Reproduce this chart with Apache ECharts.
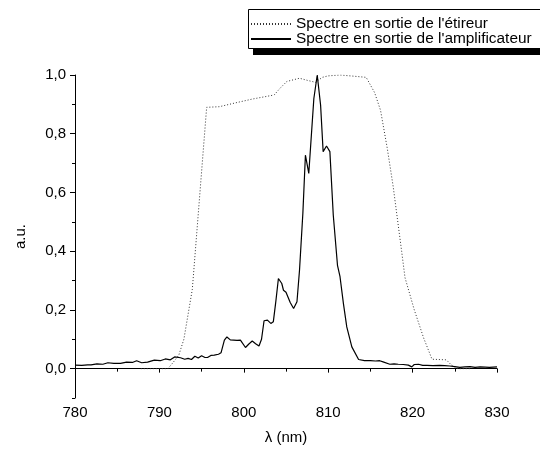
<!DOCTYPE html>
<html>
<head>
<meta charset="utf-8">
<script src="https://cdn.jsdelivr.net/npm/echarts@6/dist/echarts.min.js"></script>
<style>
html,body{margin:0;padding:0;background:#fff;}
#chart{width:540px;height:453px;}
</style>
</head>
<body>
<div id="chart"></div>
<script>
// Series names
const seriesNames = ["Spectre en sortie de l'étireur", "Spectre en sortie de l'amplificateur"];

// Stretcher output spectrum (dotted)
const stretcherLambda = [787.8, 791.0, 791.6, 792.3, 792.9, 793.9, 795.6, 797.1, 799.0, 801.0, 803.6, 804.3, 805.1, 806.6, 807.5, 808.5, 809.3, 810.0, 811.4, 813.0, 814.5, 815.5, 816.2, 817.0, 817.7, 818.7, 819.1, 820.2, 821.3, 822.3, 824.0, 824.6, 825.4, 827.0];
const stretcherValue  = [0.0, 0.0, 0.02, 0.046, 0.10, 0.27, 0.89, 0.892, 0.905, 0.918, 0.932, 0.955, 0.978, 0.989, 0.982, 0.975, 0.992, 0.997, 1.0, 0.996, 0.992, 0.94, 0.88, 0.75, 0.62, 0.40, 0.31, 0.20, 0.105, 0.032, 0.030, 0.012, 0.0, 0.0];

// Amplifier output spectrum (solid)
const amplLambda = [780.0, 780.8, 781.5, 781.9, 782.6, 783.3, 783.9, 784.6, 785.4, 786.1, 786.8, 787.3, 787.9, 788.6, 789.4, 790.1, 790.7, 791.3, 791.8, 792.5, 793.0, 793.4, 793.8, 794.2, 794.6, 795.0, 795.4, 795.7, 796.1, 796.5, 797.0, 797.3, 797.7, 798.0, 798.4, 798.8, 799.2, 799.6, 800.2, 800.6, 801.0, 801.4, 801.8, 802.1, 802.4, 802.8, 803.2, 803.5, 803.8, 804.1, 804.5, 804.7, 805.0, 805.5, 805.9, 806.3, 806.6, 807.0, 807.3, 807.7, 808.3, 808.7, 809.1, 809.4, 809.8, 810.2, 810.6, 811.1, 811.4, 811.8, 812.2, 812.8, 813.6, 814.3, 815.0, 815.6, 816.1, 816.5, 817.3, 817.8, 818.3, 818.9, 819.5, 819.9, 820.2, 820.7, 821.2, 821.7, 822.4, 823.2, 823.8, 824.4, 825.0, 825.6, 826.2, 826.8, 827.4, 828.0, 828.6, 829.1, 830.0];
const amplValue  = [0.012, 0.011, 0.013, 0.013, 0.016, 0.015, 0.020, 0.018, 0.018, 0.022, 0.021, 0.027, 0.020, 0.022, 0.029, 0.027, 0.033, 0.030, 0.040, 0.037, 0.032, 0.035, 0.031, 0.042, 0.036, 0.044, 0.038, 0.038, 0.045, 0.046, 0.049, 0.054, 0.097, 0.108, 0.098, 0.097, 0.096, 0.097, 0.072, 0.084, 0.094, 0.085, 0.077, 0.100, 0.163, 0.165, 0.154, 0.160, 0.230, 0.307, 0.290, 0.267, 0.260, 0.225, 0.205, 0.228, 0.335, 0.530, 0.727, 0.665, 0.920, 1.0, 0.897, 0.739, 0.758, 0.739, 0.523, 0.352, 0.313, 0.222, 0.142, 0.074, 0.031, 0.027, 0.027, 0.026, 0.027, 0.023, 0.015, 0.016, 0.015, 0.014, 0.012, 0.006, 0.014, 0.015, 0.011, 0.011, 0.010, 0.011, 0.010, 0.009, 0.007, 0.004, 0.006, 0.007, 0.004, 0.006, 0.005, 0.004, 0.006];

// Axis ticks
const yMajorTicks = [0, 0.2, 0.4, 0.6, 0.8, 1.0];
const yMinorTicks = [-0.1, 0.1, 0.3, 0.5, 0.7, 0.9];
const xTitle = 'λ (nm)';
const yTitle = 'a.u.';

const stretcherData = stretcherLambda.map((l, i) => [l, stretcherValue[i]]);
const amplData = amplLambda.map((l, i) => [l, amplValue[i]]);

const chart = echarts.init(document.getElementById('chart'), null, {renderer: 'canvas'});
const font = 'Arial, "Liberation Sans", Helvetica, sans-serif';

chart.setOption({
  animation: false,
  backgroundColor: '#fff',
  textStyle: {fontFamily: font},
  grid: {left: 75, right: 43, top: 75, bottom: 55, containLabel: false},
  graphic: [
    {type: 'rect', shape: {x: 253, y: 48, width: 300, height: 7}, style: {fill: '#000'}, z: 1},
    {type: 'rect', shape: {x: 248.5, y: 9.5, width: 300, height: 39}, style: {fill: '#fff', stroke: '#000', lineWidth: 1}, z: 2}
  ],
  legend: {
    orient: 'vertical',
    left: 250,
    top: 16,
    padding: 0,
    itemWidth: 40,
    itemHeight: 16,
    itemGap: -1,
    z: 10,
    itemStyle: {opacity: 0},
    textStyle: {fontFamily: font, fontSize: 15.4, color: '#000', lineHeight: 16},
    data: seriesNames
  },
  xAxis: {
    type: 'value',
    min: 780, max: 830, interval: 10,
    name: xTitle, nameLocation: 'middle', nameGap: 32,
    nameTextStyle: {fontFamily: font, fontSize: 15, color: '#000'},
    axisLine: {lineStyle: {color: '#000', width: 1}},
    axisTick: {show: true, inside: false, length: 4, lineStyle: {color: '#000'}},
    minorTick: {show: true, splitNumber: 2, length: 3, lineStyle: {color: '#000'}},
    axisLabel: {fontFamily: font, fontSize: 15, color: '#000', margin: 7},
    splitLine: {show: false}
  },
  yAxis: [
    {
      type: 'value',
      min: -0.1, max: 1.0,
      name: yTitle, nameLocation: 'middle', nameGap: 47, nameRotate: 90,
      nameTextStyle: {fontFamily: font, fontSize: 15, color: '#000'},
      axisLine: {show: true, onZero: false, lineStyle: {color: '#000', width: 1}},
      axisTick: {show: true, length: 5, customValues: yMajorTicks, lineStyle: {color: '#000'}},
      axisLabel: {fontFamily: font, fontSize: 15, color: '#000', margin: 9, customValues: yMajorTicks,
        formatter: v => v.toFixed(1).replace('.', ',')},
      splitLine: {show: false}
    },
    {
      type: 'value',
      min: -0.1, max: 1.0,
      position: 'left',
      axisLine: {show: false},
      axisTick: {show: true, length: 3, customValues: yMinorTicks, lineStyle: {color: '#000'}},
      axisLabel: {show: false},
      splitLine: {show: false}
    }
  ],
  series: [
    {
      name: seriesNames[0],
      type: 'line',
      data: stretcherData,
      symbol: 'none',
      lineStyle: {color: '#333', width: 1, type: [1, 2]},
      itemStyle: {color: '#333'},
      z: 2
    },
    {
      name: seriesNames[1],
      type: 'line',
      data: amplData,
      symbol: 'none',
      lineStyle: {color: '#000', width: 1.2, type: 'solid'},
      itemStyle: {color: '#000'},
      z: 3
    }
  ]
});
</script>
</body>
</html>
